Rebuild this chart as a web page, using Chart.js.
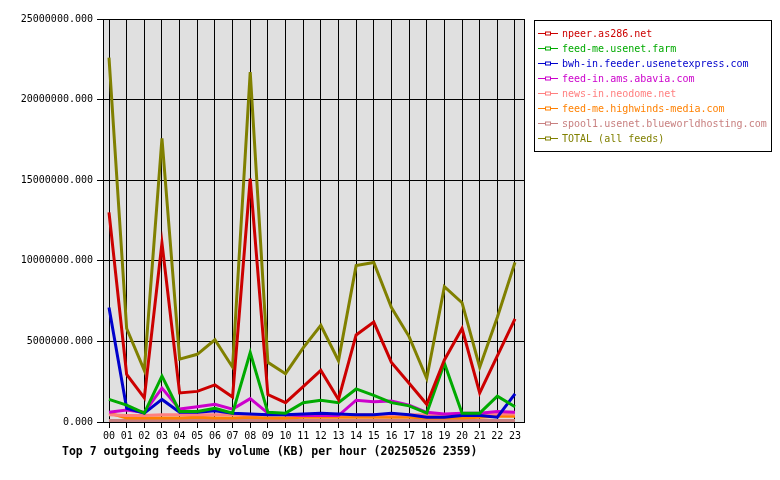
<!DOCTYPE html>
<html>
<head>
<meta charset="utf-8">
<script src="https://cdn.jsdelivr.net/npm/chart.js@4/dist/chart.umd.min.js"></script>
<style>
  html, body { margin: 0; padding: 0; background: #fff; }
  #wrap { width: 780px; height: 480px; }
</style>
</head>
<body>
<div id="wrap"><canvas id="chart" width="780" height="480"></canvas></div>
<script>
const hours = ["00","01","02","03","04","05","06","07","08","09","10","11",
  "12","13","14","15","16","17","18","19","20","21","22","23"];

const feedNames = [
  "npeer.as286.net",
  "feed-me.usenet.farm",
  "bwh-in.feeder.usenetexpress.com",
  "feed-in.ams.abavia.com",
  "news-in.neodome.net",
  "feed-me.highwinds-media.com",
  "spool1.usenet.blueworldhosting.com",
  "TOTAL (all feeds)",
];
const feedColors = ["#cc0000", "#00aa00", "#0000cc", "#cc00cc", "#ff8080", "#ff8000", "#c88080", "#808000"];

// KB per hour
const npeer = [13000000, 2950000, 1500000, 11100000, 1800000, 1900000, 2300000, 1550000, 15100000, 1700000, 1200000, 2200000,
  3200000, 1400000, 5400000, 6200000, 3700000, 2400000, 1100000, 3850000, 5800000, 1800000, 4100000, 6400000];
const usenetFarm = [1400000, 1050000, 550000, 2850000, 650000, 650000, 850000, 550000, 4300000, 600000, 550000, 1200000,
  1350000, 1200000, 2050000, 1650000, 1200000, 1000000, 550000, 3650000, 550000, 550000, 1600000, 950000];
const usenetExpress = [7100000, 850000, 550000, 1400000, 600000, 600000, 700000, 550000, 500000, 450000, 450000, 500000,
  550000, 500000, 450000, 450000, 550000, 450000, 300000, 300000, 400000, 400000, 300000, 1750000];
const abavia = [600000, 750000, 600000, 2100000, 800000, 950000, 1100000, 800000, 1450000, 550000, 450000, 400000,
  400000, 400000, 1350000, 1250000, 1300000, 1050000, 600000, 500000, 550000, 550000, 650000, 600000];
const neodome = [450000, 400000, 400000, 450000, 450000, 450000, 450000, 450000, 450000, 450000, 450000, 450000,
  450000, 450000, 450000, 450000, 450000, 450000, 450000, 450000, 500000, 500000, 500000, 500000];
const highwinds = [550000, 250000, 250000, 250000, 250000, 300000, 250000, 250000, 300000, 250000, 250000, 300000,
  300000, 300000, 300000, 300000, 300000, 300000, 250000, 250000, 250000, 300000, 350000, 350000];
const blueworld = [100000, 100000, 100000, 100000, 100000, 100000, 100000, 100000, 100000, 100000, 100000, 100000,
  100000, 100000, 100000, 100000, 100000, 100000, 100000, 100000, 100000, 100000, 100000, 100000];
const total = [22600000, 5800000, 3200000, 17600000, 3900000, 4200000, 5100000, 3400000, 21700000, 3700000, 3000000, 4600000,
  6000000, 3800000, 9700000, 9900000, 7100000, 5300000, 2700000, 8400000, 7400000, 3400000, 6500000, 9900000];

const yTicks = [0, 5000000, 10000000, 15000000, 20000000, 25000000];
const chartTitle = "Top 7 outgoing feeds by volume (KB) per hour (20250526 2359)";

const series = [npeer, usenetFarm, usenetExpress, abavia, neodome, highwinds, blueworld, total];
const mono = "'DejaVu Sans Mono', monospace";

const plotDecor = {
  id: "plotDecor",
  beforeDraw(chart) {
    const { ctx, chartArea: a } = chart;
    ctx.save();
    ctx.fillStyle = "#e0e0e0";
    ctx.fillRect(a.left, a.top, a.right - a.left, a.bottom - a.top);
    ctx.restore();
  },
  beforeDatasetsDraw(chart) {
    const { ctx, chartArea: a } = chart;
    ctx.save();
    ctx.strokeStyle = "#000";
    ctx.lineWidth = 1;
    ctx.strokeRect(Math.round(a.left) + 0.5, Math.round(a.top) + 0.5,
      Math.round(a.right - a.left), Math.round(a.bottom - a.top));
    ctx.restore();
  },
  afterDraw(chart) {
    const ctx = chart.ctx;
    ctx.save();
    // legend box
    ctx.strokeStyle = "#000";
    ctx.lineWidth = 1;
    ctx.strokeRect(534.5, 20.5, 237, 131);
    ctx.font = "10px " + mono;
    ctx.textBaseline = "middle";
    chart.data.datasets.forEach((ds, i) => {
      const y = 33.5 + i * 15;
      ctx.strokeStyle = ds.borderColor;
      ctx.beginPath();
      ctx.moveTo(538, y);
      ctx.lineTo(558, y);
      ctx.stroke();
      ctx.fillStyle = "#fff";
      ctx.fillRect(545.5, y - 1.5, 5, 3);
      ctx.strokeRect(545.5, y - 1.5, 5, 3);
      ctx.fillStyle = ds.borderColor;
      ctx.fillText(ds.label, 562, y + 1);
    });
    // title under the plot
    ctx.fillStyle = "#000";
    ctx.font = "bold 11.5px " + mono;
    ctx.textBaseline = "middle";
    ctx.fillText(chartTitle, 62, 452);
    ctx.restore();
  },
};

new Chart(document.getElementById("chart"), {
  type: "line",
  data: {
    datasets: series.map((vals, i) => ({
      label: feedNames[i],
      data: vals.map((v, h) => ({ x: h, y: v })),
      borderColor: feedColors[i],
      backgroundColor: feedColors[i],
      borderWidth: 3,
      pointRadius: 0,
      tension: 0,
      fill: false,
    })),
  },
  options: {
    responsive: false,
    animation: false,
    layout: { padding: { left: 0, top: 19, right: 256, bottom: 0 } },
    plugins: {
      legend: { display: false },
      tooltip: { enabled: false },
    },
    scales: {
      x: {
        type: "linear",
        min: -0.34,
        max: 23.51,
        afterFit(scale) { scale.height = 58; },
        afterBuildTicks(scale) {
          scale.ticks = hours.map((h, i) => ({ value: i }));
        },
        ticks: {
          stepSize: 1,
          includeBounds: false,
          autoSkip: false,
          maxRotation: 0,
          padding: 2,
          color: "#000",
          font: { family: mono, size: 10 },
          callback: (v) => hours[v],
        },
        grid: { color: "#000", lineWidth: 1, tickLength: 6, drawOnChartArea: true },
        border: { display: false },
      },
      y: {
        min: 0,
        max: 25000000,
        afterFit(scale) { scale.width = 103; },
        afterBuildTicks(scale) {
          scale.ticks = yTicks.map((v) => ({ value: v }));
        },
        ticks: {
          padding: 4,
          color: "#000",
          font: { family: mono, size: 10 },
          callback: (v) => v.toFixed(3),
        },
        grid: { color: "#000", lineWidth: 1, tickLength: 6 },
        border: { display: false },
      },
    },
  },
  plugins: [plotDecor],
});
</script>
</body>
</html>
